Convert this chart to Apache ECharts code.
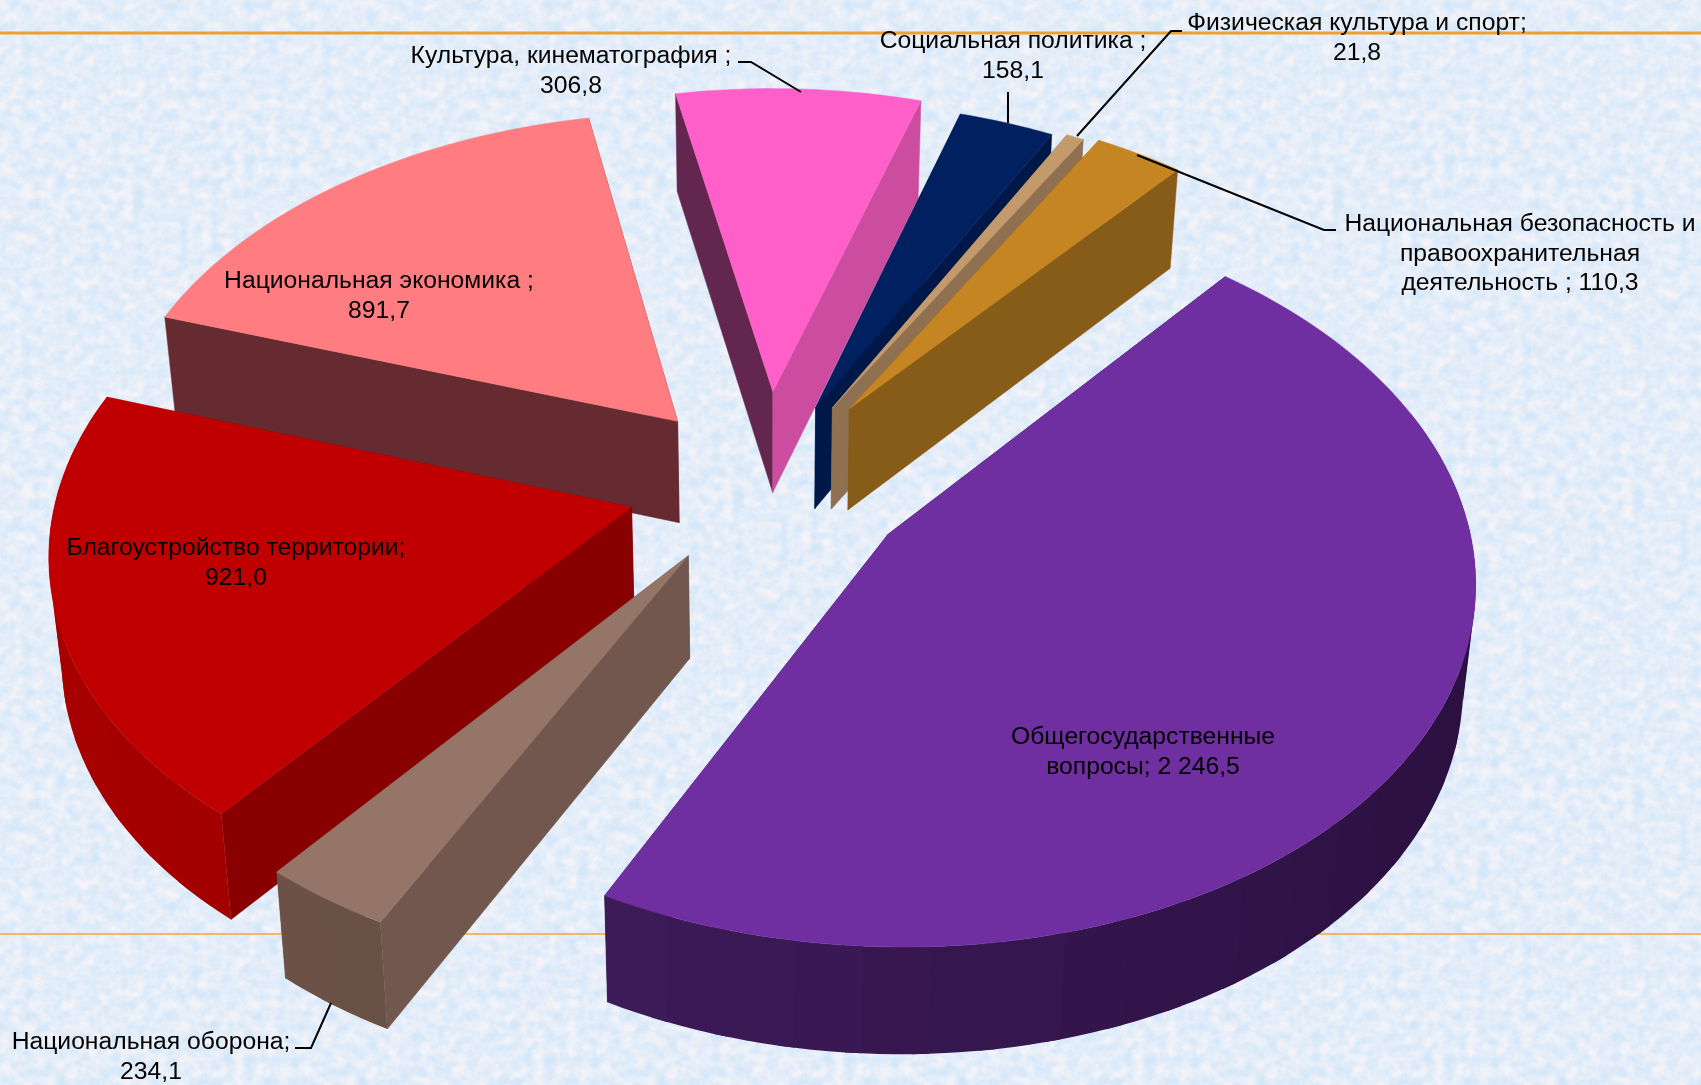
<!DOCTYPE html>
<html>
<head>
<meta charset="utf-8">
<style>
html,body{margin:0;padding:0;width:1701px;height:1085px;overflow:hidden;background-color:#DBEAF8;}
#bg{position:absolute;left:0;top:0;width:1701px;height:1085px;background-size:300px 300px;
background-image:url("data:image/svg+xml;utf8,<svg xmlns='http://www.w3.org/2000/svg' width='300' height='300'><filter id='n' x='0' y='0' width='100%' height='100%'><feTurbulence type='fractalNoise' baseFrequency='0.09' numOctaves='4' seed='11' stitchTiles='stitch'/><feColorMatrix values='0 0 0 0 0.90  0 0 0 0 0.90  0 0 0 0 0.94  1.6 0.6 0 0 -0.6'/></filter><rect width='300' height='300' fill='%23D4E7F9'/><rect width='300' height='300' filter='url(%23n)'/></svg>");}
#c{position:absolute;left:0;top:0;width:1701px;height:1085px;}
</style>
<script src="https://cdn.jsdelivr.net/npm/echarts@6/dist/echarts.min.js"></script>
</head>
<body>
<div id="bg"></div>
<div id="c"></div>
<script>
// ---- data ----
const categories = ['Общегосударственные вопросы','Национальная оборона','Благоустройство территории','Национальная экономика','Культура, кинематография','Социальная политика','Физическая культура и спорт','Национальная безопасность и правоохранительная деятельность'];
const values = [2246.5,234.1,921.0,891.7,306.8,158.1,21.8,110.3];
const labelTemplates = ['Общегосударственные\nвопросы; {v}','Национальная оборона;\n{v}','Благоустройство территории;\n{v}','Национальная экономика ;\n{v}','Культура, кинематография ;\n{v}','Социальная политика ;\n{v}','Физическая культура и спорт;\n{v}','Национальная безопасность и\nправоохранительная\nдеятельность ; {v}'];
// ---- styles ----
const topColors = ['#702FA0','#957568','#C00000','#FF7C80','#FF5FC8','#002060','#C39A6B','#C58522'];
const startWall = ['#2A1040','#71574D','#880000','#652B30','#62264F','#001848','#8F7050','#875C19'];
const endWall   = ['#2A1040','#71574D','#880000','#652B30','#CC4D9F','#001848','#8F7050','#875C19'];
const outerLight= ['#451E62','#6E5449','#A80000','#6E3035','#6E3058','#001848','#8F7050','#875C19'];
const outerDark = ['#2A1040','#5F463C','#880000','#652B30','#62264F','#001848','#8F7050','#875C19'];
// ---- layout: view of the reference's 3-D pie ----
const CX=765, CY=483, R=573, TILT=0.62, PERSP=5200, DEPTH=102, START=-51.5, BOTTOM_X=0.982;
const explode = [146,137,138,135,152,135,142,150];      // per slice
const viewShift = [1.8,3.5,-2.1,-0.5,-5.6,0,-0.7,-0.3]; // degrees, start edge of each slice, perspective distortion
const labelCenters = [[1143,752],[151,1057],[236,563],[379,296],[571,71],[1013,56],[1357,38],[1520,254]];
const leaders = [null,
 [[295,1048],[311,1048],[331,1003]], null, null,
 [[738,62],[751,62],[801,92]],
 [[1008,92],[1008,123]],
 [[1182,31],[1171,31],[1077,136]],
 [[1336,230],[1324,230],[1137,155]]];

const total = values.reduce((a,b)=>a+b,0);
const spans = values.map(v=>v/total*360);
const edges = spans.map((s,i)=>START+spans.slice(0,i).reduce((a,b)=>a+b,0)+viewShift[i]);
edges.push(edges[0]+360);
const rad = d=>d*Math.PI/180;
function project(u,v){
  const s=1/(1-v/PERSP);
  return {x:CX+u*s, y:CY+TILT*v*s, s};
}
function topPt(u,v){const p=project(u,v);return [p.x,p.y];}
function botPt(u,v){const p=project(u,v);return [CX+(p.x-CX)*BOTTOM_X, p.y+DEPTH*(1+0.35*(p.s-1))];}
function hex(c){return [1,3,5].map(i=>parseInt(c.substr(i,2),16));}
function mix(a,b,t){const A=hex(a),B=hex(b);return 'rgb('+A.map((x,i)=>Math.round(x+(B[i]-x)*t)).join(',')+')';}
function poly(points,color){return {type:'polygon',shape:{points},style:{fill:color,stroke:color,lineWidth:0.5}};}

function renderSlice(params,api){
  const i=api.value(0);
  const a0=edges[i], a1=edges[i+1], mid=rad((a0+a1)/2);
  const tu=explode[i]*Math.cos(mid), tv=explode[i]*Math.sin(mid);
  const world=d=>[tu+R*Math.cos(rad(d)), tv+R*Math.sin(rad(d))];
  const n=Math.max(2,Math.ceil((a1-a0)/1.5));
  const angs=[];for(let k=0;k<=n;k++)angs.push(a0+(a1-a0)*k/n);
  const children=[];
  const wall=(d,color)=>{const w=world(d);return poly([topPt(tu,tv),topPt(w[0],w[1]),botPt(w[0],w[1]),botPt(tu,tv)],color);};
  const sVis=Math.sin(rad(a0-90))>0, eVis=Math.sin(rad(a1+90))>0;
  if(!sVis)children.push(wall(a0,startWall[i]));
  if(!eVis)children.push(wall(a1,endWall[i]));
  if(sVis)children.push(wall(a0,startWall[i]));
  if(eVis)children.push(wall(a1,endWall[i]));
  // outer wall: overlapping bands, painted one over the next, so no seams appear
  const band=4;
  for(let k=0;k<n;k+=band){
    const m=(angs[k]+angs[Math.min(n,k+band)])/2;
    if(Math.sin(rad(m))<-0.3)continue;
    const t=(1+Math.cos(rad(m)))/2;
    const color=mix(outerLight[i],outerDark[i],t);
    const last=Math.min(n,k+band+1);
    const up=[],dn=[];
    for(let j=k;j<=last;j++){const w=world(angs[j]);up.push(topPt(w[0],w[1]));dn.unshift(botPt(w[0],w[1]));}
    children.push({type:'polygon',shape:{points:up.concat(dn)},style:{fill:color}});
  }
  const pts=[topPt(tu,tv)];
  angs.forEach(d=>{const w=world(d);pts.push(topPt(w[0],w[1]));});
  children.push(poly(pts,topColors[i]));
  return {type:'group',children};
}
function fmt(v){
  const f=v.toFixed(1).split('.');
  return f[0].replace(/\B(?=(\d{3})+$)/g,' ')+','+f[1];
}
function renderLabel(params,api){
  const i=api.value(0);
  const children=[];
  if(leaders[i])children.push({type:'polyline',shape:{points:leaders[i]},style:{fill:null,stroke:'#000',lineWidth:2}});
  children.push({type:'text',x:labelCenters[i][0],y:labelCenters[i][1],style:{
    text:labelTemplates[i].replace('{v}',fmt(values[i])),align:'center',verticalAlign:'middle',
    font:'24.7px "Liberation Sans Narrow","Liberation Sans",sans-serif',lineHeight:29.5,fill:'#000'}});
  return {type:'group',children};
}
const order=values.map((v,i)=>i).sort((a,b)=>Math.sin(rad((edges[a]+edges[a+1])/2))-Math.sin(rad((edges[b]+edges[b+1])/2)));
const chart=echarts.init(document.getElementById('c'),null,{renderer:'canvas'});
chart.setOption({
  backgroundColor:'transparent',
  animation:false,
  graphic:[
    {type:'line',z:0,shape:{x1:0,y1:33,x2:1701,y2:33},style:{stroke:'#EE9F30',lineWidth:3}},
    {type:'line',z:0,shape:{x1:0,y1:934,x2:1701,y2:934},style:{stroke:'#F0A838',lineWidth:1.5}}
  ],
  series:[
    {type:'custom',coordinateSystem:'none',z:2,silent:true,renderItem:renderSlice,data:order.map(i=>({name:categories[i],value:[i,values[i]]}))},
    {type:'custom',coordinateSystem:'none',z:3,silent:true,renderItem:renderLabel,data:values.map((v,i)=>({name:categories[i],value:[i,v]}))}
  ]
});
</script>
</body>
</html>
